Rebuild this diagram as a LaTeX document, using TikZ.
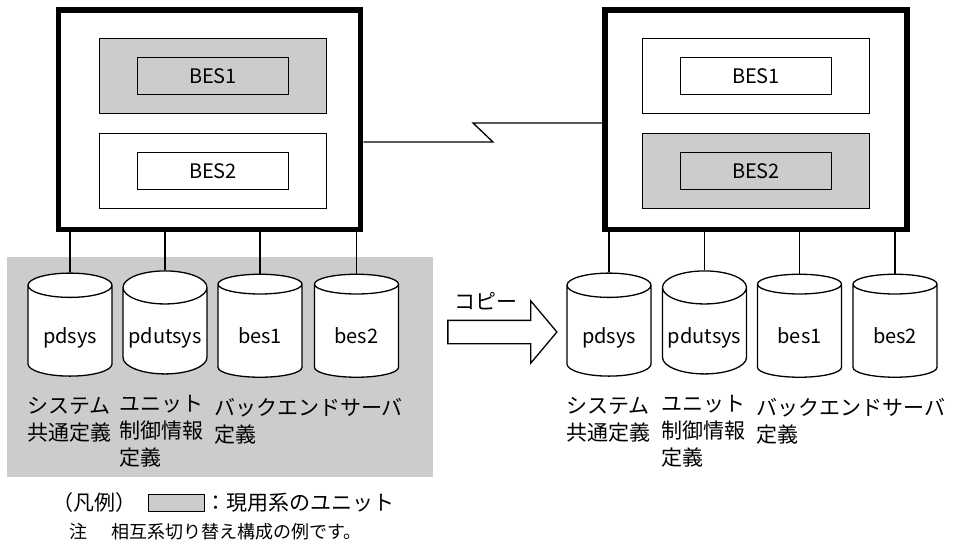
\documentclass[tikz,border=0pt]{standalone}
\usepackage{fontspec}
\setmainfont{Noto Sans CJK JP}
\usepackage{tikz}
\usetikzlibrary{positioning,shapes.geometric,shapes.arrows}

\tikzset{
  unitgray/.style={fill=black!20},
  link/.style={line width=1.3pt},
  srvbox/.style={draw, line width=5.5pt, fill=white, minimum width=302pt, minimum height=219.5pt, inner sep=0pt},
  besframe/.style={draw, line width=1.3pt, fill=white, minimum width=227pt, minimum height=75pt, inner sep=0pt},
  besbox/.style={draw, line width=1.3pt, minimum width=151pt, minimum height=37pt, inner sep=0pt, font=\fontsize{20}{24}\selectfont},
  db/.style={cylinder, shape border rotate=90, aspect=0.45, draw, line width=1.3pt, fill=white, minimum width=84pt, minimum height=103pt, inner sep=0pt, text height=30pt, text depth=5pt, font=\fontsize{20}{24}\selectfont},
  lbl/.style={align=left, inner sep=0pt, font=\fontsize{21}{27}\selectfont},
  copyarrow/.style={single arrow, draw, line width=1.3pt, fill=white, minimum height=109pt, minimum width=61pt, single arrow head extend=19.5pt, single arrow tip angle=100, inner xsep=0pt, inner ysep=11pt},
}

\begin{document}
\begin{tikzpicture}[x=1pt,y=-1pt]
        \useasboundingbox (0,0) rectangle (958,554);

        % Active unit area
        \node[unitgray, minimum width=426pt, minimum height=220pt, inner sep=0pt] (unitA) at (220,367) {};

        % Disks
        \node[db] (dbA1) at (70,331) {pdsys};
        \node[db] (dbA2) at (165,331) {pdutsys};
        \node[db] (dbA3) at (260,331) {bes1};
        \node[db] (dbA4) at (356.5,331) {bes2};
        \node[db] (dbB1) at (609,331) {pdsys};
        \node[db] (dbB2) at (704.5,331) {pdutsys};
        \node[db] (dbB3) at (799.5,331) {bes1};
        \node[db] (dbB4) at (895,331) {bes2};

        % Servers
        \node[srvbox] (srvA) at (209.5,119.5) {};
        \node[srvbox] (srvB) at (756,119.5) {};

        \node[besframe, unitgray] (frmA1) at (213,76) {};
        \node[besbox] (besA1) at (frmA1) {BES1};
        \node[besframe] (frmA2) at (213,171) {};
        \node[besbox] (besA2) at (frmA2) {BES2};

        \node[besframe] (frmB1) at (756,76) {};
        \node[besbox] (besB1) at (frmB1) {BES1};
        \node[besframe, unitgray] (frmB2) at (756,171) {};
        \node[besbox] (besB2) at (frmB2) {BES2};

        % Disk connections
        \draw[link] (dbA1.north) -- (dbA1.north |- srvA.south);
        \draw[link] (dbA2.north) -- (dbA2.north |- srvA.south);
        \draw[link] (dbA3.north) -- (dbA3.north |- srvA.south);
        \draw[link] (dbA4.north) -- (dbA4.north |- srvA.south);
        \draw[link] (dbB1.north) -- (dbB1.north |- srvB.south);
        \draw[link] (dbB2.north) -- (dbB2.north |- srvB.south);
        \draw[link] (dbB3.north) -- (dbB3.north |- srvB.south);
        \draw[link] (dbB4.north) -- (dbB4.north |- srvB.south);

        % Line between the servers
        \coordinate (zigA) at (493,142);
        \coordinate (zigB) at (473,123);
        \draw[link] (srvA.east |- zigA) -- (zigA) -- (zigB) -- (srvB.west |- zigB);

        % Disk labels
        \node[lbl, below=20pt of dbA1.south, anchor=north west, xshift=-43pt] (lblA1) {システム\\共通定義};
        \node[lbl, below=20pt of dbA2.south, anchor=north west, xshift=-46pt] (lblA2) {ユニット\\制御情報\\定義};
        \node[lbl, below=20pt of dbA3.south, anchor=north west, xshift=-46pt] (lblA3) {バックエンドサーバ\\定義};
        \node[lbl, below=20pt of dbB1.south, anchor=north west, xshift=-43pt] (lblB1) {システム\\共通定義};
        \node[lbl, below=20pt of dbB2.south, anchor=north west, xshift=-43pt] (lblB2) {ユニット\\制御情報\\定義};
        \node[lbl, below=20pt of dbB3.south, anchor=north west, xshift=-43pt] (lblB3) {バックエンドサーバ\\定義};

        % Copy arrow
        \node[copyarrow] (copy) at (497.5,332) {};
        \node[lbl] (copylbl) at (486,301) {コピー};

        % Legend
        \node[lbl, anchor=west] (legtitle) at (52,503) {（凡例）};
        \node[draw, line width=1.3pt, unitgray, minimum width=56pt, minimum height=17pt, inner sep=0pt] (legbox) at (176.5,503) {};
        \node[lbl, right=0pt of legbox] (legtext) {：現用系のユニット};
        \node[lbl, anchor=west, font=\fontsize{18}{22}\selectfont] (note) at (69,532) {注\hspace{24pt}相互系切り替え構成の例です。};
    \end{tikzpicture}
\end{document}
